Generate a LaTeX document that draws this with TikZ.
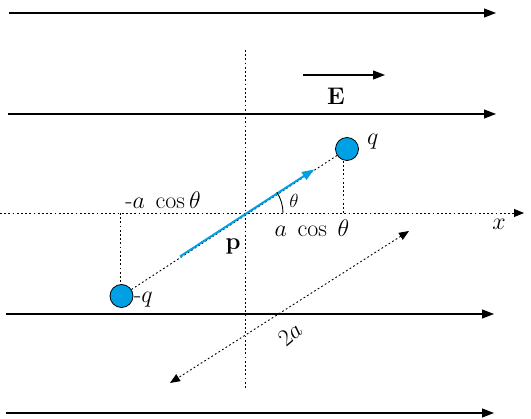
\RequirePackage{fix-cm}
\documentclass[tikz,border=0pt]{standalone}
\usetikzlibrary{arrows.meta}
\definecolor{qblue}{RGB}{0,160,228}
\begin{document}
\begin{tikzpicture}[x=1pt,y=1pt,
  field/.style={line width=1.1pt,-{Triangle[length=12pt,width=9pt]}},
  dots/.style={line width=0.9pt,dash pattern=on 1.8pt off 2.4pt},
  dotarrow/.style={dots,-{Triangle[length=10pt,width=8pt]}},
  charge/.style={circle,draw=black,line width=0.8pt,fill=qblue,minimum size=23pt,inner sep=0pt},
  lbl/.style={inner sep=0pt,font=\fontsize{24}{28}\selectfont},
  every node/.append style={inner sep=0pt}]
\useasboundingbox (0,0) rectangle (531,-419);
% field lines
\coordinate (f1a) at (9,-13);   \coordinate (f1b) at (496,-13);
\coordinate (f2a) at (8,-114);  \coordinate (f2b) at (496,-114);
\coordinate (f3a) at (6,-314);  \coordinate (f3b) at (494,-314);
\coordinate (f4a) at (6,-413);  \coordinate (f4b) at (494,-413);
\draw[field] (f1a) -- (f1b);
\draw[field] (f2a) -- (f2b);
\draw[field] (f3a) -- (f3b);
\draw[field] (f4a) -- (f4b);
% E arrow
\coordinate (ea) at (303,-75); \coordinate (eb) at (385,-75);
\draw[field] (ea) -- (eb);
\node[lbl] (E) at (336,-96) {$\mathbf{E}$};
% axes
\coordinate (xa) at (0,-213); \coordinate (xb) at (524,-213);
\draw[dotarrow] (xa) -- (xb);
\node[lbl] (xl) at (499,-224) {$x$};
\coordinate (ya) at (245,-50); \coordinate (yb) at (245,-388);
\draw[dots] (ya) -- (yb);
% charges
\node[charge] (qp) at (347,-149) {};
\node[charge] (qm) at (121.5,-296) {};
\node[lbl,anchor=west] (qpl) at (367,-142) {$q$};
\node[lbl,anchor=west] (qml) at (134,-300) {-$q$};
% projections
\coordinate (pp) at (343,-213);
\draw[dots] (qp.south -| pp) -- (pp);
\coordinate (pm) at (120,-213);
\draw[dots] (pm) -- (qm.north -| pm);
% dipole axis
\draw[dots] (qm) -- (qp);
\coordinate (pa) at (180,-256.5); \coordinate (pb) at (314,-169.5);
\draw[line width=2pt,qblue,-{Triangle[length=12pt,width=9pt]}] (pa) -- (pb);
\node[lbl] (pl) at (233,-247) {$\mathbf{p}$};
% angle
\draw[line width=0.9pt] (283,-213) arc[start angle=0,end angle=33,radius=38];
\node[lbl,font=\fontsize{19}{22}\selectfont] (th) at (294,-201) {$\theta$};
\node[lbl] (l1) at (163,-200) {-$a\;\cos\theta$};
\node[lbl] (l2) at (312,-228) {$a\;\cos\;\theta$};
% 2a arrow
\coordinate (da) at (409,-231); \coordinate (db) at (170,-383);
\draw[dots,{Triangle[length=10pt,width=8pt]}-{Triangle[length=10pt,width=8pt]}] (da) -- (db);
\node[lbl,rotate=40] (twoa) at (290,-334) {$2a$};
\end{tikzpicture}
\end{document}
